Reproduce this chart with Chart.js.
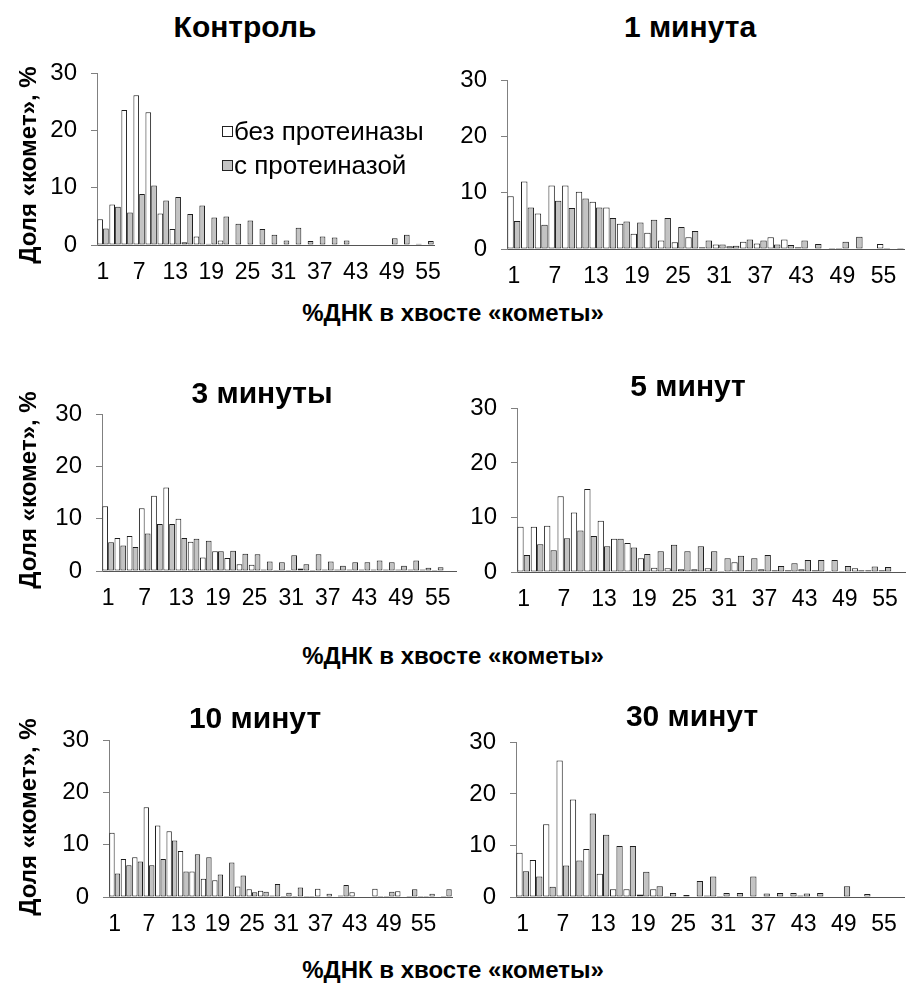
<!DOCTYPE html>
<html lang="ru">
<head>
<meta charset="utf-8">
<title>Распределение «комет» по %ДНК в хвосте</title>
<script src="https://cdn.jsdelivr.net/npm/chart.js@4.4.1/dist/chart.umd.min.js"></script>
<style>
  html, body { margin: 0; padding: 0; background: #fff; }
  body { width: 906px; height: 989px; position: relative; overflow: hidden;
         font-family: "Liberation Sans", Arial, sans-serif; color: #000; }
  canvas { position: absolute; }
  .lbl { position: absolute; white-space: nowrap; transform: translate(-50%, -50%); font-weight: bold; }
  .ptitle { font-size: 30px; }
  .xtitle { font-size: 24px; }
  .ytitle { font-size: 24px; transform: translate(-50%, -50%) rotate(-90deg); }
  .legbox { position: absolute; width: 9px; height: 9px; border: 1px solid #222; }
  .legtxt { position: absolute; font-size: 26px; white-space: nowrap; transform: translateY(-50%); }
</style>
</head>
<body>
<script>
// Categories: %DNA in comet tail (bins of 2%)
const categories28 = ['1','3','5','7','9','11','13','15','17','19','21','23','25','27','29','31','33','35','37','39','41','43','45','47','49','51','53','55'];
const categories29 = ['1','3','5','7','9','11','13','15','17','19','21','23','25','27','29','31','33','35','37','39','41','43','45','47','49','51','53','55','57'];
const categories30 = ['1','3','5','7','9','11','13','15','17','19','21','23','25','27','29','31','33','35','37','39','41','43','45','47','49','51','53','55','57','59'];
const tickLabels = ['1','7','13','19','25','31','37','43','49','55'];
const yTicks = [0, 10, 20, 30];
const seriesNames = ['без протеиназы', 'с протеиназой'];

// Share of comets, %  (without / with proteinase)
const controlWithout = [4.5, 7.1, 23.6, 26.2, 23.2, 5.5, 2.8, 0.5, 1.5, 0.2, 0.8, 0, 0, 0, 0, 0, 0, 0, 0, 0, 0, 0, 0, 0, 0, 0, 0, 0];
const controlWith    = [2.9, 6.7, 5.7, 8.9, 10.4, 7.8, 8.4, 5.4, 6.9, 4.8, 5.0, 3.7, 4.3, 2.8, 1.8, 0.8, 3.0, 0.7, 1.5, 1.3, 0.8, 0.1, 0.1, 0.1, 1.2, 1.8, 0.2, 0.7];

const min1Without = [9.4, 12.0, 6.3, 11.3, 11.3, 10.2, 8.4, 7.4, 4.5, 2.7, 2.9, 1.5, 1.2, 2.1, 0.3, 0.8, 0.5, 1.3, 1.0, 2.1, 1.7, 0.3, 0, 0, 0.2, 0, 0, 0.9, 0];
const min1With    = [5.0, 7.4, 4.3, 8.6, 7.3, 9.0, 7.4, 5.5, 4.9, 4.7, 5.2, 5.5, 3.9, 3.2, 1.5, 0.8, 0.6, 1.7, 1.5, 0.8, 0.7, 1.5, 0.9, 0.2, 1.3, 2.2, 0, 0.2, 0.2];

const min3Without = [12.4, 6.3, 6.7, 12.0, 14.4, 16.0, 10.0, 5.6, 2.6, 3.8, 2.5, 1.3, 1.2, 0.3, 0.2, 0.2, 0.5, 0.2, 0.3, 0.3, 0.3, 0.3, 0.3, 0.3, 0.3, 0.3, 0.3, 0.2, 0];
const min3With    = [5.5, 4.9, 4.6, 7.2, 9.0, 9.0, 6.3, 6.2, 5.8, 3.8, 3.9, 3.3, 3.2, 1.8, 1.7, 3.0, 1.3, 3.2, 1.8, 1.0, 1.7, 1.7, 2.0, 1.7, 1.0, 2.0, 0.6, 0.7, 0];

const min5Without = [8.3, 8.3, 8.5, 13.9, 10.9, 15.2, 9.4, 6.1, 5.3, 2.5, 0.8, 0.7, 0.5, 0.5, 0.7, 0.2, 1.8, 0.3, 0.5, 0.3, 0.3, 0.5, 0.3, 0.2, 0.2, 0.7, 0.3, 0.3, 0];
const min5With    = [3.1, 5.1, 4.0, 6.2, 7.6, 6.6, 4.7, 6.1, 4.5, 3.3, 3.8, 5.0, 3.8, 4.7, 3.8, 2.5, 3.0, 2.5, 3.1, 1.1, 1.6, 2.2, 2.2, 2.2, 1.1, 0.3, 1.0, 0.9, 0];

const min10Without = [12.3, 7.3, 7.6, 17.2, 13.7, 12.6, 8.8, 4.9, 3.5, 3.2, 0.2, 2.0, 1.5, 1.2, 0.3, 0.2, 0.2, 0.2, 1.6, 0.6, 0.3, 0.9, 0, 1.6, 0.2, 1.1, 0.2, 0.2, 0.6, 0.2];
const min10With    = [4.5, 6.1, 6.8, 6.1, 7.3, 10.8, 4.9, 8.2, 7.6, 4.3, 6.6, 4.1, 0.9, 1.0, 2.5, 0.8, 1.8, 0.2, 0.1, 0.1, 2.3, 0.1, 0, 0.2, 1.0, 0.1, 1.5, 0.2, 0.1, 1.5];

const min30Without = [8.6, 7.2, 14.1, 26.5, 18.9, 9.3, 4.5, 1.5, 1.5, 0.5, 1.5, 0.2, 0.1, 0, 0.3, 0.2, 0, 0, 0.1, 0, 0, 0.3, 0, 0, 0, 0, 0.6, 0, 0];
const min30With    = [5.0, 4.0, 2.0, 6.1, 7.1, 16.2, 12.1, 9.9, 9.9, 4.9, 2.1, 0.8, 0.4, 3.1, 4.0, 0.8, 0.8, 4.0, 0.7, 0.8, 0.8, 0.7, 0.8, 0, 2.1, 0, 0, 0, 0];

const panelTitles = ['Контроль', '1 минута', '3 минуты', '5 минут', '10 минут', '30 минут'];
const xAxisTitle = '%ДНК в хвосте «кометы»';
const yAxisTitle = 'Доля «комет», %';

const FONT = '"Liberation Sans", Arial, sans-serif';
const WHITE_FILL = '#ffffff';
const GRAY_FILL = '#c3c3c3';
const BAR_EDGE = '#1e1e1e';

// Plot-area placement of each panel on the page
const panels = [
  { labels: categories28, a: controlWithout, b: controlWith, left: 97,  top: 65,  right: 443, bottom: 245 },
  { labels: categories29, a: min1Without,    b: min1With,    left: 507, top: 72,  right: 904, bottom: 249 },
  { labels: categories29, a: min3Without,    b: min3With,    left: 102, top: 406, right: 456, bottom: 571 },
  { labels: categories29, a: min5Without,    b: min5With,    left: 517, top: 400, right: 905, bottom: 572 },
  { labels: categories30, a: min10Without,   b: min10With,   left: 109, top: 732, right: 452, bottom: 897 },
  { labels: categories29, a: min30Without,   b: min30With,   left: 516, top: 734, right: 904, bottom: 897 }
];

function addText(cls, text, x, y) {
  const d = document.createElement('div');
  d.className = 'lbl ' + cls;
  d.textContent = text;
  d.style.left = x + 'px';
  d.style.top = y + 'px';
  document.body.appendChild(d);
}

function makePanel(p) {
  const yW = 60, xH = 46, padTop = 20, padRight = 12;
  const w = yW + (p.right - p.left) + padRight;
  const h = padTop + (p.bottom - p.top) + xH;
  const c = document.createElement('canvas');
  c.width = w; c.height = h;
  c.style.width = w + 'px'; c.style.height = h + 'px';
  c.style.left = (p.left - yW) + 'px';
  c.style.top = (p.top - padTop) + 'px';
  document.body.appendChild(c);

  new Chart(c, {
    type: 'bar',
    data: {
      labels: p.labels,
      datasets: [
        { label: seriesNames[0], data: p.a, backgroundColor: WHITE_FILL, borderColor: BAR_EDGE, borderWidth: 1, borderSkipped: false },
        { label: seriesNames[1], data: p.b, backgroundColor: GRAY_FILL,  borderColor: BAR_EDGE, borderWidth: 1, borderSkipped: false }
      ]
    },
    options: {
      responsive: false,
      animation: false,
      devicePixelRatio: 1,
      layout: { padding: { top: padTop, right: padRight, left: 0, bottom: 0 } },
      datasets: { bar: { categoryPercentage: 0.96, barPercentage: 0.98 } },
      plugins: { legend: { display: false }, title: { display: false }, tooltip: { enabled: false } },
      scales: {
        x: {
          grid: { display: false, drawTicks: false },
          border: { display: true, color: '#555555', width: 1 },
          ticks: {
            autoSkip: false, maxRotation: 0, minRotation: 0, padding: 14,
            color: '#000', font: { family: FONT, size: 23 },
            callback(value) {
              const l = this.getLabelForValue(value);
              return tickLabels.includes(l) ? l : '';
            }
          },
          afterFit(s) { s.height = xH; }
        },
        y: {
          min: 0, max: 30,
          afterBuildTicks(s) { s.ticks = yTicks.map(v => ({ value: v })); },
          ticks: { padding: 14, color: '#000', font: { family: FONT, size: 24 } },
          grid: { display: true, drawOnChartArea: false, drawTicks: true, tickLength: 6, color: '#808080' },
          border: { display: true, color: '#808080', width: 1 },
          afterFit(s) { s.width = yW; }
        }
      }
    }
  });
}

panels.forEach(makePanel);

// Panel headings
addText('ptitle', panelTitles[0], 245, 27);
addText('ptitle', panelTitles[1], 690, 27);
addText('ptitle', panelTitles[2], 262, 393);
addText('ptitle', panelTitles[3], 688, 386);
addText('ptitle', panelTitles[4], 255, 718);
addText('ptitle', panelTitles[5], 692, 716);

// Shared axis titles for each row
addText('xtitle', xAxisTitle, 453, 313);
addText('xtitle', xAxisTitle, 453, 656);
addText('xtitle', xAxisTitle, 453, 970);
addText('ytitle', yAxisTitle, 28, 165);
addText('ytitle', yAxisTitle, 28, 490);
addText('ytitle', yAxisTitle, 28, 817);

// Legend inside the control panel
[[WHITE_FILL, 131], [GRAY_FILL, 165]].forEach(([fill, cy], i) => {
  const box = document.createElement('div');
  box.className = 'legbox';
  box.style.background = fill;
  box.style.left = '222px';
  box.style.top = (cy - 5) + 'px';
  document.body.appendChild(box);
  const t = document.createElement('div');
  t.className = 'legtxt';
  t.textContent = seriesNames[i];
  t.style.left = '234px';
  t.style.top = cy + 'px';
  document.body.appendChild(t);
});
</script>
</body>
</html>
